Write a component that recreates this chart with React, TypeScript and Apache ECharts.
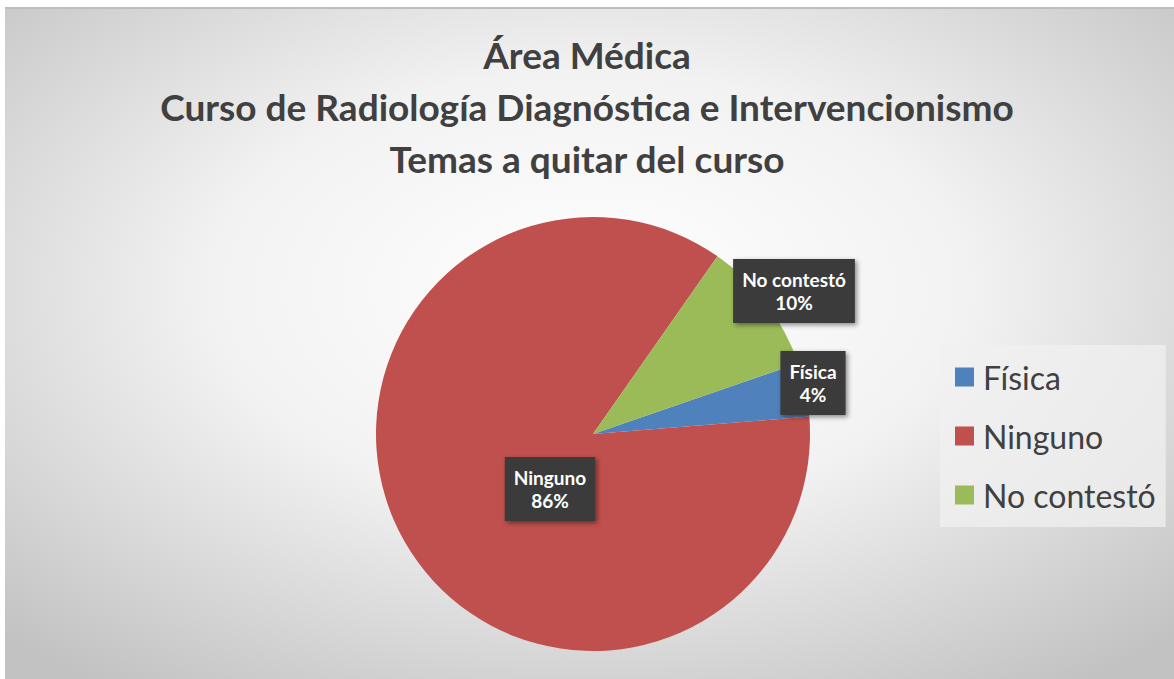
import React, { useEffect, useRef } from "react";
import * as echarts from "echarts";

const titleLines = [
  "Área Médica",
  "Curso de Radiología Diagnóstica e Intervencionismo",
  "Temas a quitar del curso",
];
const categories = ["Física", "Ninguno", "No contestó"];
const counts = [2, 43, 5];
const colors = ["#4F81BD", "#C0504D", "#9BBB59"];

const FONT = "Lato, 'Open Sans', sans-serif";

export default function App() {
  const ref = useRef<HTMLDivElement>(null);
  useEffect(() => {
    document.body.style.margin = "0";
    const chart = echarts.init(ref.current!, null, { renderer: "svg" });
    const labelPos: Record<number, [number, number]> = {
      0: [813, 383],
      1: [550, 489],
      2: [794, 291],
    };
    chart.setOption({
      animation: false,
      graphic: [
        {
          type: "rect",
          z: -10,
          shape: { x: 5, y: 7, width: 1169, height: 672 },
          style: {
            fill: new echarts.graphic.RadialGradient(0.5, 0.42, 0.72, [
              { offset: 0, color: "#ffffff" },
              { offset: 0.45, color: "#f2f2f2" },
              { offset: 1, color: "#c2c2c2" },
            ]),
          },
        },
        {
          type: "rect",
          z: -9,
          shape: { x: 5, y: 7, width: 1169, height: 2 },
          style: { fill: "#bdbdbd" },
        },
      ],
      title: {
        text: titleLines.join("\n"),
        left: "center",
        top: 23,
        textStyle: {
          fontFamily: FONT,
          fontSize: 37,
          fontWeight: "bold",
          lineHeight: 52,
          color: "#404040",
        },
      },
      legend: {
        orient: "vertical",
        left: 940,
        top: 345,
        padding: [16, 10, 16, 15],
        backgroundColor: "rgba(240,240,240,0.75)",
        itemWidth: 19,
        itemHeight: 19,
        itemGap: 27,
        icon: "rect",
        data: categories,
        textStyle: {
          fontFamily: FONT,
          fontSize: 32,
          lineHeight: 32,
          color: "#404040",
          padding: [0, 0, 0, 4],
        },
      },
      series: [
        {
          type: "pie",
          center: [593, 434],
          radius: 217,
          startAngle: 19,
          clockwise: true,
          avoidLabelOverlap: false,
          labelLine: { show: false },
          data: categories.map((c, i) => ({
            name: c,
            value: counts[i],
            itemStyle: { color: colors[i] },
          })),
          label: {
            show: true,
            position: "inside",
            formatter: "{b}\n{d}%",
            fontFamily: FONT,
            fontSize: 19,
            fontWeight: "bold",
            lineHeight: 23,
            color: "#ffffff",
            backgroundColor: "#3b3b3b",
            padding: [9, 9, 9, 9],
            shadowColor: "rgba(0,0,0,0.45)",
            shadowBlur: 5,
            shadowOffsetX: 2,
            shadowOffsetY: 2,
            align: "center",
            verticalAlign: "middle",
          },
          labelLayout: (params: any) => {
            const p = labelPos[params.dataIndex];
            return { x: p[0], y: p[1], align: "center", verticalAlign: "middle" };
          },
        },
      ],
    });
    return () => chart.dispose();
  }, []);
  return (
    <div
      ref={ref}
      style={{ position: "absolute", left: 0, top: 0, width: 1174, height: 679, background: "#ffffff" }}
    />
  );
}
